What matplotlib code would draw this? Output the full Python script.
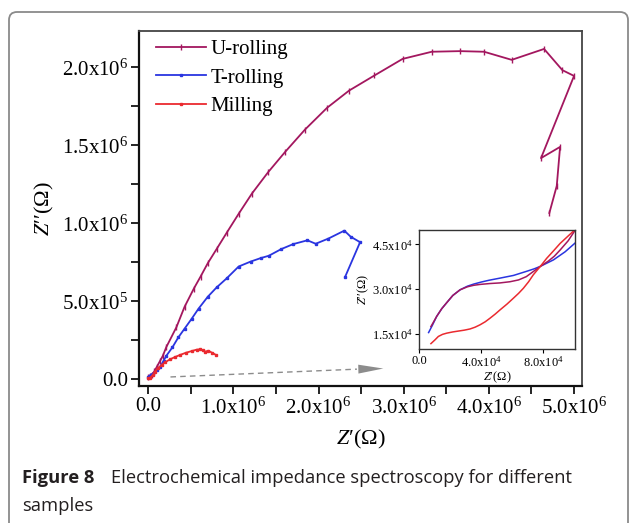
import matplotlib
matplotlib.use("Agg")
import matplotlib.pyplot as plt
from matplotlib.patches import FancyBboxPatch
from matplotlib.ticker import MultipleLocator

plt.rcParams['font.family'] = ['Liberation Serif', 'DejaVu Serif']
plt.rcParams['mathtext.fontset'] = 'custom'
plt.rcParams['mathtext.rm'] = 'Liberation Serif'
plt.rcParams['mathtext.it'] = 'Liberation Serif:italic'
plt.rcParams['mathtext.bf'] = 'Liberation Serif:bold'

# ---------------- data (main plot, 1e6 ohm) ----------------
u_x = [0.0, 0.02, 0.04, 0.07, 0.10, 0.14, 0.17, 0.21, 0.33, 0.425, 0.533, 0.613, 0.698, 0.802,
       0.92, 1.061, 1.217, 1.406, 1.604, 1.84, 2.10, 2.358, 2.656, 2.986, 3.329, 3.661,
       3.943, 4.268, 4.648, 4.863, 5.0, 4.612, 4.836, 4.797, 4.71]
u_y = [0.012, 0.018, 0.03, 0.05, 0.08, 0.12, 0.15, 0.205, 0.334, 0.464, 0.58, 0.658, 0.744, 0.835,
       0.939, 1.061, 1.191, 1.327, 1.456, 1.601, 1.741, 1.851, 1.948, 2.054, 2.100, 2.104,
       2.100, 2.048, 2.118, 1.982, 1.945, 1.418, 1.49, 1.24, 1.066]

t_x = [0.0, 0.03, 0.06, 0.10, 0.14, 0.18, 0.212, 0.283, 0.354, 0.425, 0.509, 0.59, 0.698, 0.802,
       0.92, 1.061, 1.203, 1.32, 1.415, 1.562, 1.703, 1.868, 1.966, 2.114, 2.302, 2.377,
       2.487, 2.31]
t_y = [0.017, 0.03, 0.035, 0.06, 0.08, 0.12, 0.151, 0.205, 0.27, 0.324, 0.388, 0.453, 0.529, 0.589,
       0.647, 0.723, 0.755, 0.777, 0.792, 0.835, 0.867, 0.891, 0.869, 0.902, 0.953, 0.914,
       0.879, 0.655]

m_x = [0.0, 0.02, 0.05, 0.079, 0.11, 0.157, 0.20, 0.255, 0.31, 0.372, 0.44, 0.51, 0.566, 0.607,
       0.64, 0.666, 0.705, 0.75, 0.795]
m_y = [0.006, 0.01, 0.025, 0.049, 0.07, 0.092, 0.11, 0.128, 0.142, 0.156, 0.17, 0.181, 0.19, 0.192,
       0.185, 0.177, 0.183, 0.17, 0.156]

# ---------------- data (inset, 1e4 ohm) ----------------
iu_x = [0.75, 1.12, 1.45, 1.77, 2.16, 2.63, 3.1, 3.5, 3.92, 4.56, 5.2, 5.85, 6.4, 6.9, 7.35,
        7.85, 8.32, 8.7, 9.08, 9.6, 10.06]
iu_y = [1.75, 2.09, 2.35, 2.55, 2.79, 2.98, 3.08, 3.13, 3.16, 3.19, 3.21, 3.25, 3.31, 3.42, 3.59,
        3.78, 3.94, 4.10, 4.31, 4.62, 4.98]

it_x = [0.6, 0.85, 1.12, 1.45, 1.77, 2.16, 2.63, 3.1, 3.5, 4.0, 4.5, 5.2, 6.07, 6.93, 7.4, 7.79,
        8.65, 9.4, 10.06]
it_y = [1.55, 1.80, 2.09, 2.35, 2.55, 2.79, 2.98, 3.10, 3.17, 3.24, 3.30, 3.37, 3.46, 3.60, 3.68,
        3.76, 3.98, 4.25, 4.55]

im_x = [0.75, 1.0, 1.23, 1.5, 1.77, 2.15, 2.52, 2.9, 3.27, 3.6, 3.92, 4.25, 4.56, 4.9, 5.21,
        5.65, 6.07, 6.4, 6.71, 7.05, 7.35, 7.8, 8.21, 8.65, 9.08, 9.6, 10.06]
im_y = [1.18, 1.30, 1.42, 1.49, 1.53, 1.57, 1.60, 1.63, 1.67, 1.73, 1.81, 1.91, 2.03, 2.17, 2.31,
        2.50, 2.70, 2.86, 3.03, 3.25, 3.48, 3.76, 4.03, 4.28, 4.53, 4.78, 5.00]

labels = ['U-rolling', 'T-rolling', 'Milling']
colors = ['#a3175f', '#2a35e0', '#ea2a2f']

xticks = [0, 1e6, 2e6, 3e6, 4e6, 5e6]
xticklabels = ['0.0', '1.0x10$^6$', '2.0x10$^6$', '3.0x10$^6$', '4.0x10$^6$', '5.0x10$^6$']
yticks = [0, 5e5, 1e6, 1.5e6, 2e6]
yticklabels = ['0.0', '5.0x10$^5$', '1.0x10$^6$', '1.5x10$^6$', '2.0x10$^6$']
ixticks = [0, 4e4, 8e4]
ixticklabels = ['0.0', '4.0x10$^4$', '8.0x10$^4$']
iyticks = [1.5e4, 3e4, 4.5e4]
iyticklabels = ['1.5x10$^4$', '3.0x10$^4$', '4.5x10$^4$']

W, H = 630, 523
fig = plt.figure(figsize=(W / 100, H / 100), dpi=100)

def fx(px):
    return px / W

def fy(py):
    return 1 - py / H

# outer rounded frame
frame = FancyBboxPatch((0.09, -0.3), 6.19, 5.11 + 0.3, boxstyle='round,pad=0,rounding_size=0.08',
                       transform=fig.dpi_scale_trans, fill=False, edgecolor='#8a8a8a', lw=1.3)
fig.patches.append(frame)

# main axes
ax = fig.add_axes([fx(139.3), fy(386), fx(582.3) - fx(139.3), fy(31) - fy(386)])
mk = ['|', 's', 's']
ms = [4, 2, 2]
for xs, ys, lab, c, m, s in zip([u_x, t_x, m_x], [u_y, t_y, m_y], labels, colors, mk, ms):
    ax.plot([v * 1e6 for v in xs], [v * 1e6 for v in ys], color=c, lw=1.3, marker=m, ms=s,
            mew=1.0, label=lab)

ax.set_xlim(-0.106e6, 5.097e6)
ax.set_ylim(-0.043e6, 2.233e6)
ax.set_xticks(xticks)
ax.set_xticklabels(xticklabels)
ax.set_yticks(yticks)
ax.set_yticklabels(yticklabels)
ax.xaxis.set_minor_locator(MultipleLocator(0.5e6))
ax.yaxis.set_minor_locator(MultipleLocator(0.25e6))
ax.tick_params(which='both', direction='out', length=6, width=1.2, labelsize=15, pad=2,
               top=False, right=False)
for sp in ['left', 'bottom']:
    ax.spines[sp].set_linewidth(1.6)
    ax.spines[sp].set_color('#111111')
for sp in ['top', 'right']:
    ax.spines[sp].set_linewidth(1.3)
    ax.spines[sp].set_color('#444444')

ax.set_xlabel("$Z$\u2032(\u03a9)", fontsize=16, labelpad=7)
ax.set_ylabel("$Z$\u2032\u2032(\u03a9)", fontsize=16, labelpad=4)

leg = ax.legend(loc='upper left', bbox_to_anchor=(0.0377, 0.975), frameon=False, fontsize=15,
                handlelength=2.4, handletextpad=0.2, labelspacing=0.42, borderpad=0,
                borderaxespad=0)

# dashed pointer arrow toward inset
ax.plot([0.26e6, 2.45e6], [0.015e6, 0.065e6], ls=(0, (4, 3)), color='#8c8c8c', lw=1.0)
ax.annotate('', xy=(2.76e6, 0.069e6), xytext=(2.45e6, 0.065e6),
            arrowprops=dict(arrowstyle='-|>,head_length=18,head_width=3.2', mutation_scale=1,
                            color='#8c8c8c', lw=0, shrinkA=0, shrinkB=0))

# inset
ins = fig.add_axes([fx(419.3), fy(349), fx(575.3) - fx(419.3), fy(230) - fy(349)])
for xs, ys, c in zip([it_x, iu_x, im_x], [it_y, iu_y, im_y], [colors[1], colors[0], colors[2]]):
    ins.plot([v * 1e4 for v in xs], [v * 1e4 for v in ys], color=c, lw=1.1)
ins.set_xlim(0, 1.006e5)
ins.set_ylim(1.0e4, 4.98e4)
ins.set_xticks(ixticks)
ins.set_xticklabels(ixticklabels)
ins.set_yticks(iyticks)
ins.set_yticklabels(iyticklabels)
ins.tick_params(direction='out', length=3, width=0.8, labelsize=9, pad=1.5)
for sp in ins.spines.values():
    sp.set_linewidth(1.0)
    sp.set_color('#333333')
ins.set_xlabel("$Z$\u2032(\u03a9)", fontsize=9, labelpad=0)
ins.set_ylabel("$Z$\u2032\u2032(\u03a9)", fontsize=9, labelpad=1)

# caption
cap_font = ['Open Sans', 'DejaVu Sans']
cap_size = 13.2
fig.text(fx(22), fy(478), 'Figure 8', fontsize=cap_size, fontweight='bold', family=cap_font,
         color='#231f20', va='center', ha='left')
fig.text(fx(111), fy(478), 'Electrochemical impedance spectroscopy for different',
         fontsize=cap_size, family=cap_font, color='#231f20', va='center', ha='left')
fig.text(fx(22), fy(506), 'samples', fontsize=cap_size, family=cap_font, color='#231f20',
         va='center', ha='left')

fig.savefig('out.png', dpi=100)
